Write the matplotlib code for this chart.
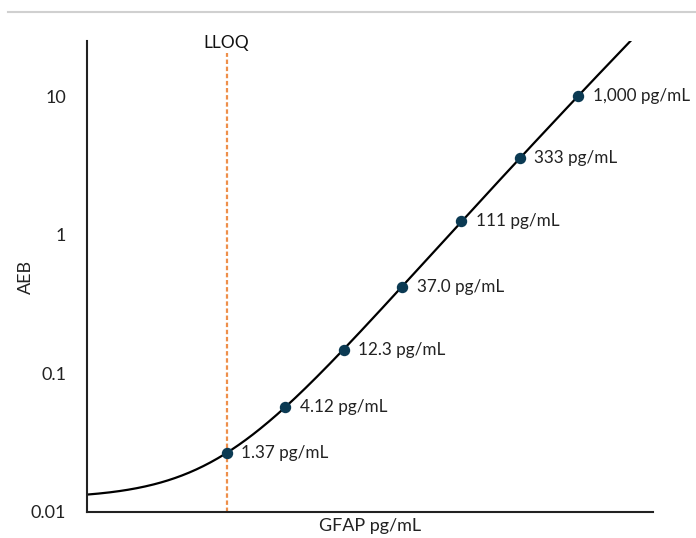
import numpy as np
import matplotlib
matplotlib.use("Agg")
import matplotlib.pyplot as plt
from matplotlib.lines import Line2D
import matplotlib.transforms as mtransforms

plt.rcParams['font.family'] = ['Lato', 'DejaVu Sans']

# Data
conc = [1.37, 4.12, 12.3, 37.0, 111, 333, 1000]
aeb = [0.0267, 0.0573, 0.148, 0.423, 1.25, 3.56, 10.0]
point_labels = ["1.37 pg/mL", "4.12 pg/mL", "12.3 pg/mL", "37.0 pg/mL",
                "111 pg/mL", "333 pg/mL", "1,000 pg/mL"]
background = 0.0125          # fitted background level (curve plateau at left)
lloq = 1.37
ytick_vals = [0.01, 0.1, 1, 10]
ytick_labels = ["0.01", "0.1", "1", "10"]
xlim = (0.1, 4060)
ylim = (0.01, 25)

fig = plt.figure(figsize=(6.96, 5.38), dpi=100)
ax = fig.add_axes([87/696, 26/538, 566/696, 471/538])

# Fitted calibration curve: background + quadratic fit in log-log space
c_arr = np.array(conc)
a_arr = np.array(aeb)
coef = np.polyfit(np.log10(c_arr), np.log10(a_arr - background), 2)
xs = np.logspace(np.log10(xlim[0]), np.log10(xlim[1]), 400)
ys = background + 10 ** np.polyval(coef, np.log10(xs))
ax.plot(xs, ys, color='black', lw=1.6, zorder=2)

# LLOQ line
trans = mtransforms.blended_transform_factory(ax.transData, ax.transAxes)
ax.plot([lloq, lloq], [0, (512-53)/471], transform=trans, color='#EE8F4A',
        lw=1.6, linestyle=(0, (2.0, 1.2)), zorder=1, clip_on=False)
ax.text(lloq, 1 - 2/471, "LLOQ", transform=trans, ha='center', va='center',
        fontsize=12.5, color='#111111')

# Points
ax.plot(conc, aeb, 'o', color='#0B3A53', markersize=7.2, zorder=3)
for c, a, lab in zip(conc, aeb, point_labels):
    ax.annotate(lab, (c, a), xytext=(10.5, 0), textcoords='offset points',
                ha='left', va='center', fontsize=12.3, color='#222222')

ax.set_xscale('log')
ax.set_yscale('log')
ax.set_xlim(*xlim)
ax.set_ylim(*ylim)
ax.set_yticks(ytick_vals)
ax.set_yticklabels(ytick_labels)
ax.yaxis.set_minor_locator(matplotlib.ticker.NullLocator())
ax.xaxis.set_minor_locator(matplotlib.ticker.NullLocator())
ax.set_xticks([])
ax.tick_params(axis='y', length=0, pad=15, labelsize=13, labelcolor='#222222')

for s in ['top', 'right']:
    ax.spines[s].set_visible(False)
for s in ['left', 'bottom']:
    ax.spines[s].set_linewidth(1.5)
    ax.spines[s].set_color('#222222')

ax.set_xlabel("GFAP pg/mL", fontsize=13, labelpad=4, color='#222222')
ax.set_ylabel("AEB", fontsize=13, color='#222222', va='center')
ax.yaxis.set_label_coords((26 - 87) / 566, 0.5)

# top separator line
fig.add_artist(Line2D([8/696, 1], [1 - 12/538, 1 - 12/538],
                      transform=fig.transFigure, color='#D0D0D0', lw=1.5))

fig.savefig("out.png", dpi=100)
